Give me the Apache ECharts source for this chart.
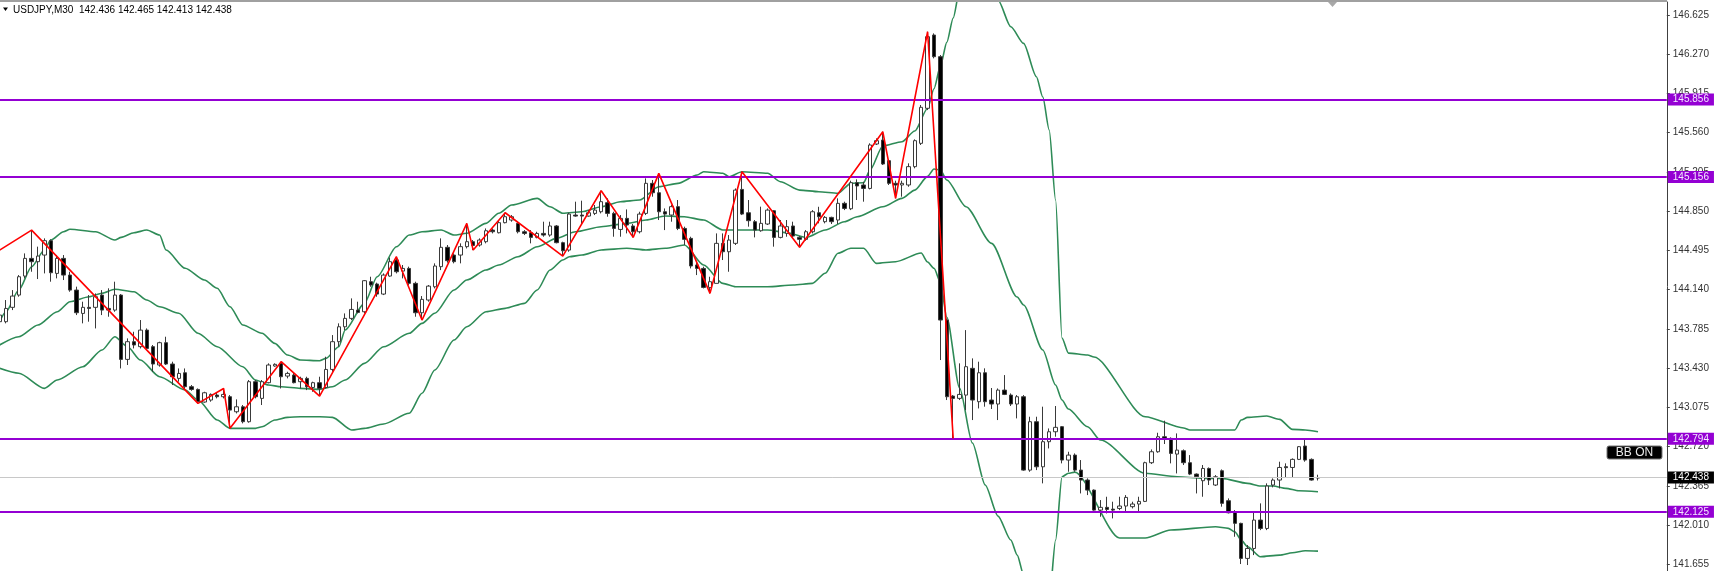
<!DOCTYPE html>
<html>
<head>
<meta charset="utf-8">
<script src="https://cdn.jsdelivr.net/npm/echarts@6/dist/echarts.min.js"></script>
<style>html,body{margin:0;padding:0;background:#fff;}#chart{width:1716px;height:571px;}</style>
</head>
<body>
<div id="chart"></div>
<script>
// ---- DATA ----
const symbolTitle = 'USDJPY,M30  142.436 142.465 142.413 142.438';
// OHLC candles as [open, close, low, high]
const candles = [
[143.850,143.910,143.820,143.940],[143.850,143.970,143.835,144.046],[143.980,144.082,143.955,144.136],[144.091,144.257,144.076,144.272],
[144.263,144.423,144.242,144.468],[144.423,144.393,144.302,144.679],[144.393,144.444,144.236,144.529],[144.453,144.583,144.287,144.604],
[144.583,144.293,144.212,144.595],[144.287,144.423,144.242,144.453],[144.423,144.272,144.227,144.453],[144.272,144.136,144.121,144.302],
[144.136,143.931,143.910,144.167],[143.925,143.980,143.835,144.031],[143.980,143.970,143.850,144.091],[143.980,144.076,143.789,144.106],
[144.091,143.955,143.910,144.136],[143.970,143.955,143.895,144.152],[143.955,144.091,143.940,144.212],[144.091,143.509,143.427,144.100],
[143.509,143.669,143.458,143.699],[143.669,143.639,143.608,143.759],[143.624,143.774,143.608,143.865],[143.774,143.608,143.593,143.789],
[143.624,143.467,143.397,143.639],[143.458,143.660,143.443,143.669],[143.660,143.467,143.458,143.714],[143.467,143.352,143.277,143.488],
[143.337,143.382,143.307,143.427],[143.388,143.262,143.237,143.427],[143.262,143.237,143.225,143.277],[143.237,143.126,143.111,143.246],
[143.123,143.207,143.117,143.216],[143.141,143.192,143.126,143.201],[143.186,143.171,143.156,143.207],[143.171,143.192,143.156,143.246],
[143.171,143.050,142.885,143.186],[143.035,143.080,143.020,143.147],[143.080,142.945,142.930,143.096],[142.945,143.307,142.936,143.322],
[143.307,143.171,143.156,143.322],[143.156,143.307,143.096,143.322],[143.298,143.458,143.292,143.473],[143.449,143.464,143.443,143.473],
[143.473,143.352,143.246,143.488],[143.358,143.382,143.337,143.397],[143.367,143.298,143.292,143.388],[143.307,143.337,143.246,143.352],
[143.337,143.261,143.231,143.352],[143.255,143.298,143.216,143.307],[143.298,143.246,143.177,143.352],[143.255,143.418,143.246,143.533],
[143.418,143.669,143.397,143.729],[143.669,143.804,143.623,143.835],[143.804,143.880,143.774,143.925],[143.880,143.961,143.865,144.061],
[143.955,143.934,143.925,144.031],[143.940,144.221,143.925,144.227],[144.212,144.182,144.166,144.257],[144.191,144.100,144.076,144.203],
[144.100,144.272,144.091,144.287],[144.263,144.393,144.257,144.430],[144.408,144.302,144.287,144.438],[144.308,144.332,144.242,144.363],
[144.332,144.197,144.182,144.348],[144.197,143.931,143.895,144.212],[143.931,144.052,143.865,144.082],[144.046,144.172,144.031,144.182],
[144.166,144.354,144.151,144.378],[144.348,144.523,144.317,144.604],[144.523,144.402,144.384,144.544],[144.453,144.393,144.378,144.468],
[144.453,144.529,144.378,144.559],[144.529,144.574,144.513,144.740],[144.574,144.540,144.498,144.589],[144.544,144.589,144.529,144.604],
[144.574,144.673,144.559,144.694],[144.679,144.664,144.649,144.694],[144.655,144.746,144.649,144.770],[144.746,144.800,144.740,144.836],
[144.770,144.800,144.755,144.815],[144.740,144.664,144.649,144.755],[144.664,144.649,144.634,144.679],[144.655,144.613,144.559,144.679],
[144.613,144.649,144.604,144.664],[144.649,144.634,144.619,144.755],[144.634,144.716,144.619,144.755],[144.716,144.565,144.559,144.725],
[144.565,144.492,144.444,144.574],[144.498,144.824,144.483,144.836],[144.815,144.806,144.800,144.936],[144.815,144.806,144.725,144.945],
[144.806,144.836,144.800,144.860],[144.830,144.860,144.815,144.906],[144.845,144.936,144.830,145.035],[144.927,144.830,144.800,144.966],
[144.830,144.694,144.619,144.845],[144.685,144.785,144.619,144.815],[144.785,144.725,144.649,144.866],[144.716,144.664,144.613,144.734],
[144.664,144.824,144.649,144.845],[144.830,145.102,144.815,145.147],[145.102,145.017,144.981,145.132],[145.017,144.845,144.770,145.192],
[144.845,144.824,144.679,144.875],[144.815,144.891,144.755,144.906],[144.891,144.694,144.679,144.951],[144.694,144.595,144.544,144.710],
[144.604,144.354,144.332,144.619],[144.363,144.332,144.272,144.393],[144.332,144.160,144.151,144.348],[144.160,144.212,144.106,144.257],
[144.197,144.559,144.197,144.649],[144.559,144.483,144.408,144.649],[144.483,144.589,144.302,144.634],[144.559,145.041,144.544,145.056],
[145.047,144.824,144.815,145.207],[144.836,144.764,144.710,144.951],[144.755,144.679,144.613,144.770],[144.673,144.740,144.664,144.891],
[144.734,144.860,144.725,144.875],[144.854,144.613,144.529,144.860],[144.613,144.716,144.604,144.770],[144.649,144.710,144.619,144.770],
[144.716,144.625,144.613,144.755],[144.613,144.595,144.523,144.625],[144.595,144.664,144.583,144.679],[144.664,144.845,144.649,144.860],
[144.836,144.800,144.740,144.890],[144.755,144.794,144.740,144.806],[144.794,144.755,144.734,144.800],[144.770,144.921,144.734,144.966],
[144.921,144.875,144.860,144.936],[144.872,145.108,144.860,145.126],[145.108,145.078,144.951,145.138],[145.087,145.056,144.936,145.117],
[145.056,145.449,145.047,145.464],[145.458,145.488,145.449,145.509],[145.494,145.277,145.268,145.569],[145.307,145.102,145.087,145.319],
[145.102,145.087,144.966,145.126],[145.087,145.102,144.981,145.126],[145.087,145.253,145.071,145.283],[145.253,145.488,145.238,145.500],
[145.464,145.790,145.449,145.811],[145.781,146.429,145.765,146.474],[146.444,146.248,146.233,146.459],[146.248,143.865,143.503,146.263],
[143.865,143.171,143.141,143.880],[143.177,143.156,142.794,143.186],[143.156,143.192,143.141,143.473],[143.186,143.443,143.050,143.774],
[143.428,143.141,142.960,143.518],[143.126,143.388,143.065,143.488],[143.388,143.126,143.081,143.428],[143.141,143.105,143.060,143.250],
[143.105,143.231,142.960,143.246],[143.231,143.192,143.186,143.367],[143.186,143.105,143.087,143.201],[143.105,143.171,142.975,143.186],
[143.171,142.507,142.501,143.186],[142.507,142.945,142.492,142.990],[142.945,142.537,142.507,142.990],[142.537,142.764,142.387,143.081],
[142.764,142.854,142.703,142.884],[142.854,142.894,142.809,143.087],[142.900,142.598,142.568,142.906],[142.598,142.643,142.492,142.673],
[142.643,142.507,142.492,142.658],[142.507,142.417,142.296,142.598],[142.417,142.326,142.281,142.432],[142.326,142.145,142.139,142.332],
[142.145,142.170,142.085,142.236],[142.170,142.151,142.115,142.266],[142.154,142.145,142.070,142.221],[142.160,142.182,142.145,142.266],
[142.182,142.260,142.130,142.281],[142.176,142.200,142.160,142.221],[142.200,142.224,142.130,142.266],[142.224,142.574,142.218,142.583],
[142.574,142.673,142.562,142.694],[142.673,142.809,142.664,142.845],[142.809,142.794,142.743,142.954],[142.794,142.658,142.568,142.803],
[142.652,142.688,142.477,142.839],[142.682,142.574,142.553,142.694],[142.574,142.471,142.462,142.643],[142.471,142.447,142.296,142.477],
[142.411,142.522,142.266,142.553],[142.522,142.417,142.372,142.531],[142.372,142.447,142.363,142.462],[142.501,142.206,142.176,142.513],
[142.230,142.121,142.115,142.251],[142.130,142.025,141.904,142.145],[142.025,141.708,141.657,142.031],[141.708,141.798,141.648,141.829],
[141.798,142.055,141.738,142.121],[142.055,141.979,141.964,142.206],[141.979,142.363,141.964,142.387],[142.372,142.417,142.351,142.432],
[142.417,142.531,142.341,142.583],[142.538,142.529,142.441,142.568],[142.531,142.604,142.441,142.613],[142.604,142.719,142.598,142.725],
[142.725,142.598,142.583,142.794],[142.604,142.417,142.411,142.613],[142.436,142.438,142.413,142.465]
];
// total bar slots on the chart (includes empty shift area on the right)
const slotCount = 261;
const categories = Array.from({length: slotCount}, (_, i) => String(i));

// Bollinger bands: [bar index, price]
const bbUpper = [[0,143.850],[1,143.940],[3,144.137],[5,144.347],[7,144.499],[8,144.589],[10,144.664],[11,144.686],[15,144.664],[18,144.589],[19,144.613],[21,144.655],[23,144.680],[25,144.634],[26,144.499],[29,144.333],[32,144.227],[34,144.152],[36,143.985],[38,143.820],[41,143.745],[43,143.654],[45,143.548],[47,143.503],[50,143.497],[51,143.518],[53,143.623],[54,143.775],[57,144.016],[59,144.257],[62,144.528],[64,144.634],[66,144.664],[69,144.680],[71,144.634],[73,144.650],[76,144.740],[78,144.831],[80,144.906],[84,144.966],[86,144.890],[88,144.831],[91,144.845],[94,144.890],[97,144.936],[100,144.951],[103,145.071],[106,145.102],[109,145.177],[110,145.207],[113,145.193],[114,145.162],[116,145.207],[120,145.193],[122,145.117],[125,145.041],[128,145.026],[131,145.012],[133,145.102],[135,145.108],[136,145.222],[138,145.440],[141,145.479],[143,145.575],[145,145.782],[146,145.958],[147,146.163],[148,146.378],[149,146.598],[150,146.850],[153,147.300],[156,146.761],[158,146.519],[160,146.369],[162,146.067],[163,145.883],[164,145.585],[165,144.951],[166,143.702],[167,143.566],[170,143.548],[171,143.530],[179,142.990],[185,142.888],[186,142.870],[193,142.870],[194,142.960],[195,142.984],[198,142.996],[200,142.966],[202,142.876],[204,142.870],[206,142.854]];
const bbMiddle = [[0,143.639],[3,143.714],[6,143.820],[9,143.940],[11,144.031],[14,144.076],[16,144.107],[18,144.143],[21,144.121],[23,144.046],[25,143.985],[28,143.926],[31,143.745],[34,143.623],[38,143.442],[40,143.322],[42,143.277],[44,143.261],[47,143.247],[50,143.238],[52,143.261],[54,143.322],[57,143.473],[60,143.623],[64,143.745],[66,143.835],[68,143.926],[71,144.137],[73,144.227],[76,144.318],[78,144.363],[81,144.438],[84,144.528],[87,144.604],[90,144.664],[94,144.709],[98,144.740],[101,144.770],[104,144.806],[107,144.800],[110,144.770],[113,144.680],[117,144.680],[120,144.680],[123,144.655],[126,144.613],[129,144.680],[132,144.755],[134,144.800],[138,144.890],[141,144.966],[143,145.041],[145,145.165],[146,145.232],[147,145.222],[148,145.132],[151,144.890],[155,144.559],[159,144.073],[160,144.001],[163,143.594],[165,143.277],[166,143.141],[167,143.060],[170,142.899],[172,142.779],[179,142.478],[184,142.447],[188,142.432],[191,142.432],[195,142.387],[197,142.363],[199,142.363],[201,142.342],[203,142.320],[206,142.311]];
const bbLower = [[0,143.428],[3,143.383],[7,143.247],[9,143.322],[13,143.442],[16,143.594],[18,143.714],[20,143.623],[22,143.503],[25,143.352],[29,143.232],[31,143.141],[34,142.960],[36,142.885],[40,142.885],[41,142.899],[43,142.960],[45,142.984],[47,142.990],[50,142.990],[52,142.984],[55,142.870],[57,142.885],[60,142.924],[64,143.021],[66,143.202],[68,143.413],[71,143.684],[73,143.804],[76,143.940],[79,143.971],[82,144.016],[84,144.137],[86,144.318],[88,144.408],[89,144.438],[91,144.453],[94,144.499],[98,144.514],[101,144.499],[104,144.514],[107,144.544],[110,144.363],[113,144.197],[115,144.166],[120,144.166],[124,144.182],[127,144.197],[129,144.288],[131,144.469],[133,144.514],[135,144.514],[137,144.378],[140,144.393],[144,144.471],[145,144.390],[146,144.333],[147,144.209],[148,143.890],[150,143.250],[152,142.752],[154,142.372],[156,142.091],[158,141.874],[159,141.738],[160,141.560],[162,141.300],[164,141.330],[165,141.874],[166,142.447],[167,142.478],[168,142.489],[175,141.892],[179,141.892],[183,141.965],[190,141.994],[192,141.980],[193,141.949],[194,141.874],[195,141.813],[197,141.723],[200,141.738],[202,141.759],[204,141.777],[206,141.774]];
// ZigZag pivots: [bar index, price]
const zigzag = [[0,144.498],[5,144.679],[31,143.111],[35,143.246],[36,142.885],[44,143.488],[50,143.177],[62,144.438],[66,143.865],[73,144.740],[74,144.498],[79,144.836],[88,144.444],[94,145.035],[99,144.613],[103,145.192],[111,144.106],[116,145.207],[125,144.523],[138,145.569],[140,144.966],[145,146.474],[149,142.794]];
// Horizontal levels
const levelLines = [145.856, 145.156, 142.794, 142.125];
const currentPrice = 142.438;
// Price scale
const priceTicks = [141.655, 142.010, 142.365, 142.720, 143.075, 143.430, 143.785, 144.140, 144.495, 144.850, 145.205, 145.560, 145.915, 146.270, 146.625];
const priceMin = 141.594, priceMax = 146.743;

// ---- CHART ----
const FONT = 'Liberation Sans';
const PURPLE = '#9400D3';
const chart = echarts.init(document.getElementById('chart'), null, {renderer: 'canvas'});
const bandStyle = {color: '#2E8B57', width: 1.6};
function bandSeries(name, data) {
  return {name, type: 'line', xAxisIndex: 1, yAxisIndex: 0, data, showSymbol: false, symbol: 'none',
    smooth: 0.25, smoothMonotone: 'x', lineStyle: bandStyle, z: 3, silent: true, clip: true, animation: false};
}
chart.setOption({
  animation: false,
  backgroundColor: '#ffffff',
  grid: {left: -3.6, top: 2, width: slotCount * 6.4, bottom: 0, containLabel: false, outerBoundsMode: 'none'},
  xAxis: [
    {type: 'category', data: categories, boundaryGap: true, show: false, axisLine: {onZero: false}},
    {type: 'value', min: -0.5, max: slotCount - 0.5, show: false, axisLine: {onZero: false}}
  ],
  yAxis: [{
    type: 'value', position: 'right', min: priceMin, max: priceMax, scale: true,
    splitLine: {show: false},
    axisLine: {show: true, onZero: false, lineStyle: {color: '#404040', width: 1}},
    axisTick: {show: true, inside: false, length: 3, customValues: priceTicks, lineStyle: {color: '#404040'}},
    axisLabel: {show: true, customValues: priceTicks, margin: 6, color: '#333', fontFamily: FONT, fontSize: 10,
      formatter: v => v.toFixed(3)}
  }],
  series: [
    {
      name: 'price', type: 'line', xAxisIndex: 1, data: [], z: 1, silent: true,
      markLine: {silent: true, symbol: 'none', animation: false,
        lineStyle: {color: '#c8c8c8', width: 1, type: 'solid'},
        label: {show: true, position: 'end', distance: 1, formatter: '{b}',
          backgroundColor: '#000', color: '#fff', fontFamily: FONT, fontSize: 10, lineHeight: 10, padding: [1, 5, 1, 5]},
        data: [{yAxis: currentPrice, name: currentPrice.toFixed(3)}]}
    },
    bandSeries('BB upper', bbUpper),
    bandSeries('BB middle', bbMiddle),
    bandSeries('BB lower', bbLower),
    {
      name: 'USDJPY', type: 'candlestick', xAxisIndex: 0, data: candles, barWidth: 4, z: 4, silent: true,
      itemStyle: {color: '#ffffff', color0: '#000000', borderColor: '#3a3a3a', borderColor0: '#3a3a3a', borderWidth: 1}
    },
    {
      name: 'ZigZag', type: 'line', xAxisIndex: 1, data: zigzag, showSymbol: false, symbol: 'none',
      lineStyle: {color: '#ff0000', width: 1.6}, z: 5, silent: true
    },
    {
      name: 'levels', type: 'line', xAxisIndex: 1, data: [], z: 6, silent: true,
      markLine: {silent: true, symbol: 'none', animation: false,
        lineStyle: {color: PURPLE, width: 2, type: 'solid'},
        label: {show: true, position: 'end', distance: 1, formatter: '{b}',
          backgroundColor: PURPLE, color: '#f4e8ff', fontFamily: FONT, fontSize: 10, lineHeight: 10, padding: [1, 5, 1, 5]},
        data: levelLines.map(v => ({yAxis: v, name: v.toFixed(3)}))}
    }
  ],
  graphic: [
    {type: 'line', shape: {x1: 0, y1: 1, x2: 1667, y2: 1}, style: {stroke: '#a0a0a0', lineWidth: 2}, z: 10},
    {type: 'polygon', shape: {points: [[3, 7.5], [8, 7.5], [5.5, 11]]}, style: {fill: '#000'}, z: 10},
    {type: 'text', x: 13, y: 10, style: {text: symbolTitle, fontFamily: FONT, fontSize: 10, fill: '#000', verticalAlign: 'middle'}, z: 10},
    {type: 'polygon', shape: {points: [[1328, 2], [1337, 2], [1332.5, 7]]}, style: {fill: '#a8a8a8'}, z: 10},
    {type: 'group', x: 1607, y: 446, z: 10, children: [
      {type: 'rect', shape: {x: 0, y: 0, width: 55, height: 13, r: 2}, style: {fill: '#000', stroke: '#777', lineWidth: 1}},
      {type: 'text', x: 27.5, y: 7, style: {text: 'BB ON', fontFamily: FONT, fontSize: 12, fill: '#e8e8e8', align: 'center', verticalAlign: 'middle'}}
    ]}
  ]
});
</script>
</body>
</html>
